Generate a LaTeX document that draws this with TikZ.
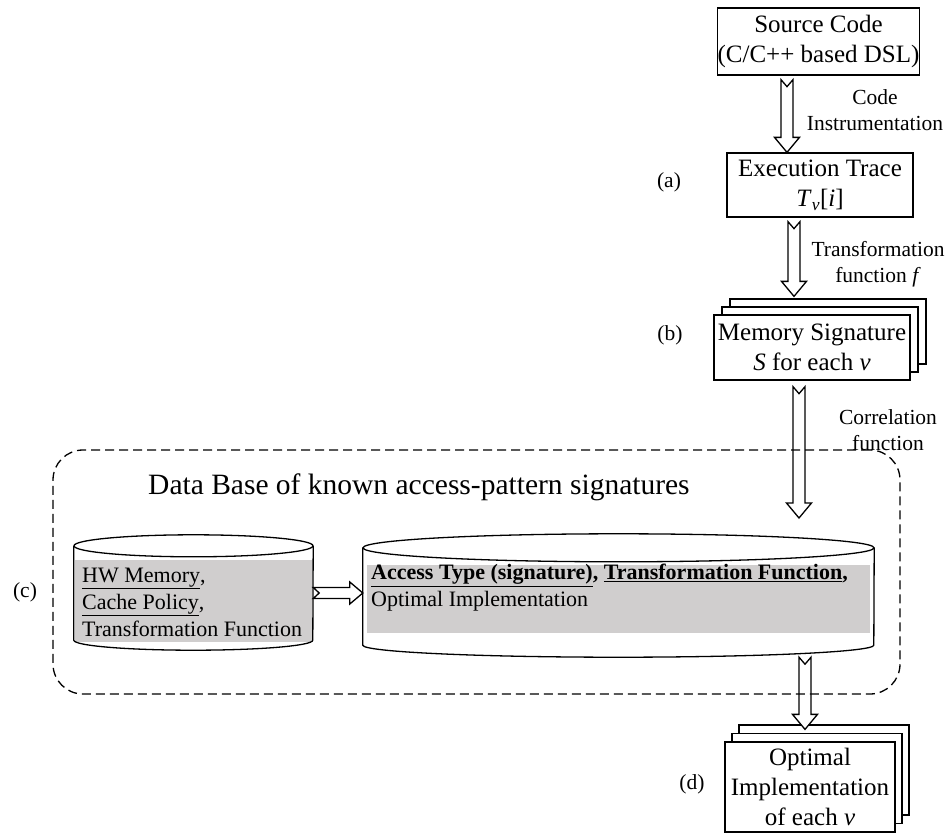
\documentclass[tikz,border=0pt]{standalone}
\usepackage{fontspec}
\setmainfont{Liberation Serif}
\usetikzlibrary{calc,shadows}

\definecolor{dbgray}{RGB}{208,206,206}

\newcommand{\boxfont}{\fontsize{25}{30}\selectfont}
\newcommand{\labfont}{\fontsize{21.5}{26}\selectfont}
\newcommand{\dbfont}{\fontsize{22}{27}\selectfont}
\newcommand{\titlefont}{\fontsize{29.5}{34}\selectfont}

% hollow block arrow pointing down, notched tail; #1 = tail centre, #2 = tip
\newcommand{\blockdown}[2]{%
  \draw[blockarrow] let \p1=#1, \p2=#2 in
    (\x1-6pt,\y1) -- (\x1-6pt,\y2+15pt) -- (\x1-12.5pt,\y2+15pt) -- (\x1,\y2)
    -- (\x1+12.5pt,\y2+15pt) -- (\x1+6pt,\y2+15pt) -- (\x1+6pt,\y1)
    -- (\x1,\y1-7pt) -- cycle;}

% hollow block arrow pointing right, notched tail
\newcommand{\blockright}[2]{%
  \draw[blockarrow] let \p1=#1, \p2=#2 in
    (\x1,\y1+5.5pt) -- (\x2-13pt,\y1+5.5pt) -- (\x2-13pt,\y1+11pt) -- (\x2,\y1)
    -- (\x2-13pt,\y1-11pt) -- (\x2-13pt,\y1-5.5pt) -- (\x1,\y1-5.5pt)
    -- (\x1+6pt,\y1) -- cycle;}

% drum outline around a node: #1 node, #2 half width, #3 top radius, #4 bottom radius
\newcommand{\drum}[4]{%
  \draw[boxline] (#1.north west) -- (#1.south west)
    arc[start angle=180, end angle=360, x radius=#2, y radius=#4] -- (#1.north east);
  \draw[boxline] (#1.north) ellipse[x radius=#2, y radius=#3];}

\tikzset{
  boxline/.style={draw=black, line width=1.3pt},
  stepbox/.style={boxline, fill=white, align=center, inner sep=0pt, font=\boxfont},
  blockarrow/.style={draw=black, fill=white, line width=1.3pt, line join=miter},
  edgelabel/.style={align=center, inner sep=0pt, font=\labfont},
  tag/.style={inner sep=0pt, font=\labfont},
  dbtext/.style={align=left, inner sep=0pt, font=\dbfont},
  drumbody/.style={inner sep=0pt},
}

\begin{document}
\begin{tikzpicture}[x=1pt, y=-1pt]
\fill[white] (0,0) rectangle (947,832);
\useasboundingbox (0,0) rectangle (947,832);

% pipeline boxes
\node[stepbox, minimum width=197pt, minimum height=67pt] (src) at (818.5,41.5)
  {Source Code\\(C/C++ based DSL)};
\node[stepbox, minimum width=186pt, minimum height=64pt] (exec) at (820,185)
  {Execution Trace\\\textit{T}\textsubscript{\textit{v}}[\textit{i}]};
\node[stepbox, minimum width=196pt, minimum height=65pt,
  double copy shadow={shadow xshift=8pt, shadow yshift=8pt, draw=black, fill=white, line width=1.3pt}]
  (memsig) at (812,347.5) {Memory Signature\\\textit{S} for each \textit{v}};
\node[stepbox, minimum width=170pt, minimum height=90pt,
  double copy shadow={shadow xshift=7pt, shadow yshift=8.5pt, draw=black, fill=white, line width=1.3pt}]
  (opt) at (810,787) {Optimal\\Implementation\\of each \textit{v}};

% side tags
\node[tag] (taga) at (669,182) {(a)};
\node[tag] (tagb) at (670,335) {(b)};
\node[tag] (tagc) at (25,592) {(c)};
\node[tag] (tagd) at (692,784) {(d)};

% edge labels
\node[edgelabel] (lbl1) at (875,110) {Code\\Instrumentation};
\node[edgelabel] (lbl2) at (878,264) {Transformation\\function \textit{f}};
\node[edgelabel] (lbl3) at (888,430) {Correlation\\function};

% data base drums
\node[drumbody, minimum width=239pt, minimum height=94pt] (lc) at (193.5,593) {};
\node[drumbody, minimum width=511pt, minimum height=97pt] (rc) at (618.5,596.5) {};
\fill[dbgray] ([xshift=1.5pt,yshift=-14pt]lc.north west) rectangle ([xshift=-1.5pt,yshift=-2pt]lc.south east);
\fill[dbgray] ([xshift=4pt,yshift=-17pt]rc.north west) rectangle ([xshift=-4pt,yshift=12pt]rc.south east);
\drum{lc}{119.5pt}{11pt}{10pt}
\drum{rc}{255.5pt}{14pt}{12pt}

\node[dbtext, anchor=west] (lctext) at (82,602)
  {\underline{HW Memory},\\\underline{Cache Policy},\\Transformation Function};
\node[dbtext, anchor=west] (rctext) at (371,588)
  {\textbf{\underline{Access Type (signature)}, \underline{Transformation Function},}\\Optimal Implementation};

\node[inner sep=0pt, anchor=west, font=\titlefont] (dbtitle) at (148,487)
  {Data Base of known access-pattern signatures};

% flow arrows
\coordinate (corrtip) at (799,518);
\blockdown{([xshift=-31.5pt,yshift=-4pt]src.south)}{([xshift=-33pt]exec.north)}
\blockdown{([xshift=-26pt,yshift=-4pt]exec.south)}{([xshift=-18pt,yshift=18pt]memsig.north)}
\blockdown{([xshift=-13pt,yshift=-6pt]memsig.south)}{(corrtip)}
\blockdown{([xshift=186.5pt,yshift=-12pt]rc.south)}{([xshift=-5pt,yshift=12pt]opt.north)}
\blockright{(lc.east)}{(lc.east -| rc.west)}

% data base frame
\node[draw=black, line width=1.3pt, dash pattern=on 9pt off 5pt, rounded corners=30pt,
  minimum width=847pt, minimum height=244pt, inner sep=0pt] (dbframe) at (476.5,572) {};
\end{tikzpicture}
\end{document}
